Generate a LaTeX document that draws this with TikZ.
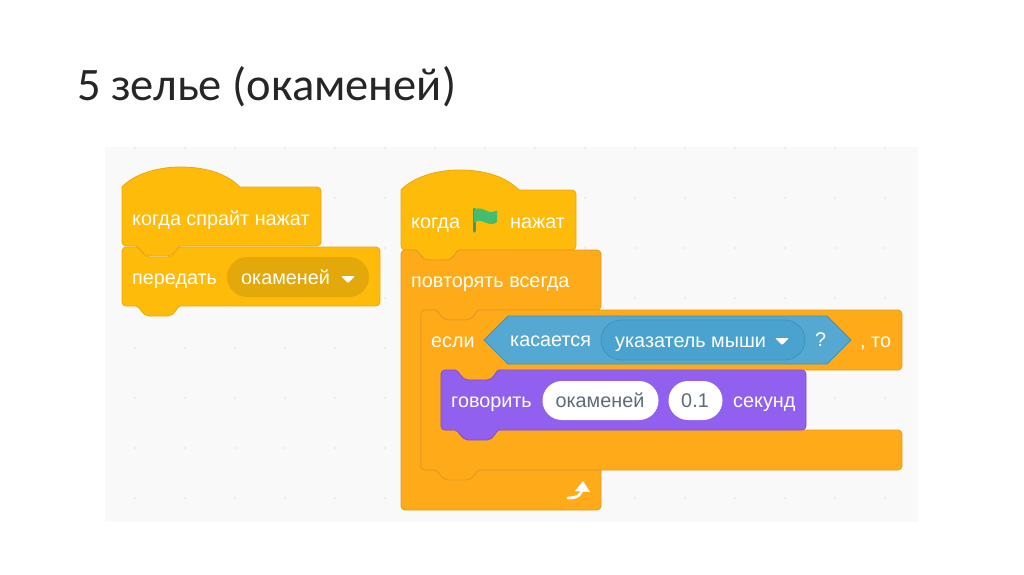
\documentclass[tikz,border=0pt]{standalone}
\usepackage{fontspec}
\setmainfont{Liberation Sans}
\newfontfamily\titlefont{Carlito}
\definecolor{hatc}{HTML}{FFBB0A}
\definecolor{hatl}{HTML}{E8A910}
\definecolor{ctrl}{HTML}{FFAB19}
\definecolor{ctrll}{HTML}{DF9A22}
\definecolor{purp}{HTML}{9160EE}
\definecolor{purpl}{HTML}{8050D0}
\definecolor{sens}{HTML}{55A8D2}
\definecolor{sensl}{HTML}{3F94BC}
\definecolor{senspill}{HTML}{4AA2CF}
\definecolor{menu}{HTML}{E3A80A}
\definecolor{bg}{HTML}{F9F9F9}
\definecolor{dotc}{HTML}{EAEAEA}
\definecolor{greyt}{HTML}{5F6A78}
\definecolor{flagc}{HTML}{45BD6F}
\definecolor{flagl}{HTML}{3E9E55}
\tikzset{
  hatblock/.style={fill=hatc,draw=hatl,line width=.8pt,line join=round},
  ctrlblock/.style={fill=ctrl,draw=ctrll,line width=.8pt,line join=round},
  purpblock/.style={fill=purp,draw=purpl,line width=.8pt,line join=round},
  lbl/.style={text=white,inner sep=0pt,font=\fontsize{19.8}{24}\selectfont},
  gridd/.style={fill=dotc,draw=none},
  val/.style={text=greyt,inner sep=0pt,font=\fontsize{19.8}{24}\selectfont}
}
% top notch going left to right
\newcommand{\notchR}[2]{-- (#1+14,#2) .. controls (#1+18,#2) and (#1+20,#2+10) .. (#1+27,#2+10) -- (#1+46,#2+10) .. controls (#1+53,#2+10) and (#1+55,#2) .. (#1+58,#2)}
% bottom bump going right to left
\newcommand{\bumpL}[2]{-- (#1+58,#2) .. controls (#1+55,#2) and (#1+53,#2+10) .. (#1+46,#2+10) -- (#1+27,#2+10) .. controls (#1+20,#2+10) and (#1+18,#2) .. (#1+14,#2)}
\begin{document}
\begin{tikzpicture}[x=1pt,y=-1pt]
\useasboundingbox (0,0) rectangle (1024,574);
\fill[white] (0,0) rectangle (1024,574);
\node[anchor=base west,inner sep=0pt,text=black!85,font=\titlefont\fontsize{46.5}{54}\selectfont] (title) at (77,100) {5 зелье (окаменей)};
\fill[bg] (105,147) rectangle (918,522);
\foreach \x in {135,185,...,915} \foreach \y in {148,198,...,520}
  \fill[gridd] (\x,\y) circle (1.1);
% left stack
\draw[hatblock] (122,242) -- (122,187) .. controls (134,174) and (158,167) .. (180,167) .. controls (205,167) and (226,173) .. (240,187) -- (317,187) arc[start angle=-90,end angle=0,radius=4] -- (321,242) arc[start angle=0,end angle=90,radius=4] \bumpL{122}{246} -- (126,246) arc[start angle=90,end angle=180,radius=4] -- cycle;
\draw[hatblock] (126,247) \notchR{122}{247} -- (376,247) arc[start angle=-90,end angle=0,radius=4] -- (380,302) arc[start angle=0,end angle=90,radius=4] \bumpL{122}{306} -- (126,306) arc[start angle=90,end angle=180,radius=4] -- (122,251) arc[start angle=180,end angle=270,radius=4] -- cycle;
\fill[menu] (247,257) -- (349,257) arc[start angle=-90,end angle=90,radius=20] -- (247,297) arc[start angle=90,end angle=270,radius=20] -- cycle;
\node[lbl,anchor=base west] (t1) at (132,225) {когда спрайт нажат};
\node[lbl,anchor=base west] (t2) at (132,284) {передать};
\node[lbl,anchor=base west] (t3) at (241,284) {окаменей};
\fill[white,rounded corners=1pt] (341,276) -- (355,276) -- (348,283) -- cycle;
% right stack: hat
\draw[hatblock] (401,245) -- (401,190) .. controls (413,177) and (437,170) .. (459,170) .. controls (484,170) and (505,176) .. (519,190) -- (572,190) arc[start angle=-90,end angle=0,radius=4] -- (576,246) arc[start angle=0,end angle=90,radius=4] \bumpL{401}{250} -- (405,250) arc[start angle=90,end angle=180,radius=4] -- cycle;
\node[lbl,anchor=base west] (t4) at (411,228) {когда};
\node[lbl,anchor=base west] (t5) at (510,228) {нажат};
\draw[line width=3pt,color=flagl,line cap=round] (474.5,209) -- (474.5,231);
\fill[flagc,rounded corners=1pt] (474,210) .. controls (482,205) and (489,216) .. (497,210) -- (497,222) .. controls (489,228) and (482,217) .. (474,223) -- cycle;
% forever C
\draw[ctrlblock] (405,250) \notchR{401}{250} -- (597,250) arc[start angle=-90,end angle=0,radius=4] -- (601,306) arc[start angle=0,end angle=90,radius=4] \bumpL{421}{310} -- (425,310) arc[start angle=-90,end angle=-180,radius=4] -- (421,466) arc[start angle=180,end angle=90,radius=4] -- (425,470) -- (601,470) -- (601,506) arc[start angle=0,end angle=90,radius=4] -- (405,510) arc[start angle=90,end angle=180,radius=4] -- (401,254) arc[start angle=180,end angle=270,radius=4] -- cycle;
\node[lbl,anchor=base west] (t6) at (411,287) {повторять всегда};
% if C
\draw[ctrlblock] (425,310) \notchR{421}{310} -- (898,310) arc[start angle=-90,end angle=0,radius=4] -- (902,366) arc[start angle=0,end angle=90,radius=4] \bumpL{441}{370} -- (445,370) arc[start angle=-90,end angle=-180,radius=4] -- (441,426) arc[start angle=180,end angle=90,radius=4] -- (898,430) arc[start angle=-90,end angle=0,radius=4] -- (902,466) arc[start angle=0,end angle=90,radius=4] \bumpL{421}{470} -- (425,470) arc[start angle=90,end angle=180,radius=4] -- (421,314) arc[start angle=180,end angle=270,radius=4] -- cycle;
\node[lbl,anchor=base west] (t7) at (431,347) {если};
\node[lbl,anchor=base west] (t8) at (860,347) {, то};
% sensing
\draw[fill=sens,draw=sensl,line width=.8pt,line join=round] (484,340) -- (508,316) -- (827,316) -- (851,340) -- (827,364) -- (508,364) -- cycle;
\draw[fill=senspill,draw=sensl,line width=.8pt] (621,320) -- (785,320) arc[start angle=-90,end angle=90,radius=20] -- (621,360) arc[start angle=90,end angle=270,radius=20] -- cycle;
\node[lbl,anchor=base west] (t9) at (510,346) {касается};
\node[lbl,anchor=base west] (t10) at (615,347) {указатель мыши};
\fill[white,rounded corners=1pt] (775,338) -- (789,338) -- (782,345) -- cycle;
\node[lbl,anchor=base west] (t11) at (815,346) {?};
% say
\draw[purpblock] (445,370) \notchR{441}{370} -- (802,370) arc[start angle=-90,end angle=0,radius=4] -- (806,426) arc[start angle=0,end angle=90,radius=4] \bumpL{441}{430} -- (445,430) arc[start angle=90,end angle=180,radius=4] -- (441,374) arc[start angle=180,end angle=270,radius=4] -- cycle;
\node[lbl,anchor=base west] (t12) at (451,407) {говорить};
\fill[white] (562,381) -- (639,381) arc[start angle=-90,end angle=90,radius=19.5] -- (562,420) arc[start angle=90,end angle=270,radius=19.5] -- cycle;
\node[val,anchor=base] (t13) at (600,407) {окаменей};
\fill[white] (688,381) -- (703,381) arc[start angle=-90,end angle=90,radius=19.5] -- (688,420) arc[start angle=90,end angle=270,radius=19.5] -- cycle;
\node[val,anchor=base] (t14) at (695,407) {0.1};
\node[lbl,anchor=base west] (t15) at (733,407) {секунд};
% loop arrow
\draw[white,line width=2.8pt,line cap=round] (568,498) .. controls (577,498) and (582,495) .. (582,488);
\fill[white] (575,491) -- (583,481) -- (590,492) -- cycle;
\end{tikzpicture}
\end{document}
